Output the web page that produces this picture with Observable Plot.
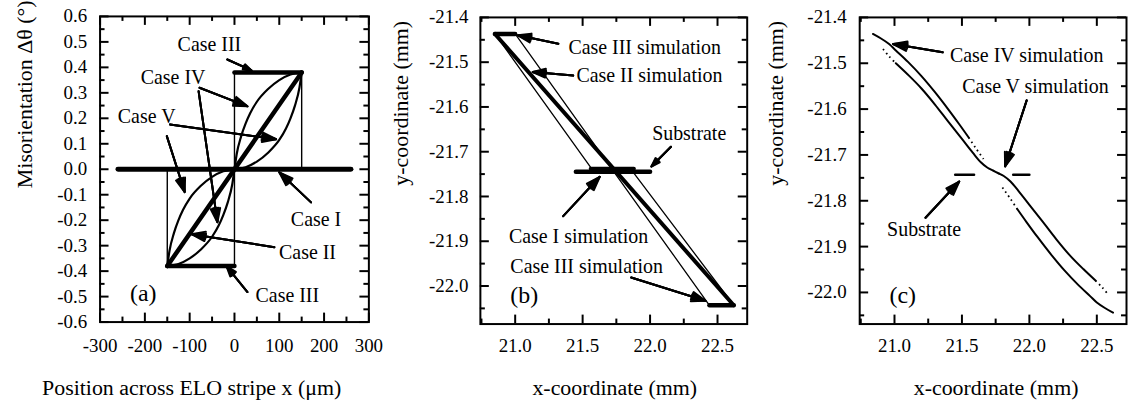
<!DOCTYPE html>
<html><head><meta charset="utf-8">
<script src="https://cdn.jsdelivr.net/npm/d3@7"></script>
<script src="https://cdn.jsdelivr.net/npm/@observablehq/plot@0.6"></script>
<style>
html,body{margin:0;padding:0;background:#fff;width:1130px;height:409px;overflow:hidden}
#wrap{position:relative;width:1130px;height:409px}
#wrap svg{position:absolute;left:0;top:0}
</style></head><body><div id="wrap"></div>
<script>
// ---------- Panel (a): misorientation profiles ----------
const aXTicks = [-300, -200, -100, 0, 100, 200, 300];
const aXMinor = [-250, -150, -50, 50, 150, 250];
const aYTicks = [-0.6, -0.5, -0.4, -0.3, -0.2, -0.1, 0, 0.1, 0.2, 0.3, 0.4, 0.5, 0.6];
const aYMinor = [-0.55, -0.45, -0.35, -0.25, -0.15, -0.05, 0.05, 0.15, 0.25, 0.35, 0.45, 0.55];

const caseI_x = [-260, 260];
const caseI_y = [0, 0];
const caseII_x = [-150, 150];
const caseII_y = [-0.38, 0.38];
const caseIII_x = [-150, -150, 0, 0, 150, 150];
const caseIII_y = [0, -0.38, -0.38, 0.38, 0.38, 0];
const caseIIIbarL_x = [-150, 0], caseIIIbarL_y = [-0.38, -0.38];
const caseIIIbarR_x = [0, 150], caseIIIbarR_y = [0.38, 0.38];
const caseIV_x = [-150, -125, -100, -75, -50, -35, -25, -15, -5, 0, 5, 15, 25, 35, 50, 75, 100, 125, 150];
const caseIV_y = [-0.38, -0.372, -0.35, -0.315, -0.265, -0.22, -0.18, -0.13, -0.06, 0, 0.06, 0.13, 0.18, 0.22, 0.265, 0.315, 0.35, 0.372, 0.38];
const caseV_x = [-150, -145, -135, -125, -115, -100, -75, -50, -25, 0, 25, 50, 75, 100, 115, 125, 135, 145, 150];
const caseV_y = [-0.38, -0.32, -0.25, -0.2, -0.16, -0.115, -0.065, -0.03, -0.008, 0, 0.008, 0.03, 0.065, 0.115, 0.16, 0.2, 0.25, 0.32, 0.38];

const aLabels = ["Case III", "Case IV", "Case V", "Case I", "Case II", "Case III"];
const aLabelX = [-56, -137, -196, 182, 163, 118];
const aLabelY = [0.49, 0.36, 0.208, -0.196, -0.327, -0.497];
const aArrX1 = [-16, -78, -80, -144, -151, 171, 89, 29];
const aArrY1 = [0.431, 0.32, 0.306, 0.176, 0.13, -0.13, -0.306, -0.482];
const aArrX2 = [38, 29, -38, 93, -111, 100, -96, -18];
const aArrY2 = [0.388, 0.247, -0.208, 0.118, -0.09, -0.012, -0.255, -0.38];

// ---------- Panel (b): simulated images, cases I-III ----------
const bcXTicks = [21.0, 21.5, 22.0, 22.5];
const bcXMinor = [20.75, 21.25, 21.75, 22.25];
const bcYTicks = [-21.4, -21.5, -21.6, -21.7, -21.8, -21.9, -22.0];
const bcYMinor = [-21.45, -21.55, -21.65, -21.75, -21.85, -21.95, -22.05];

const bCaseII_x = [20.85, 22.62];
const bCaseII_y = [-21.437, -22.043];
const bCaseIII_L_x = [20.85, 21.565], bCaseIII_L_y = [-21.437, -21.737];
const bCaseIII_M_x = [21.0, 22.44], bCaseIII_M_y = [-21.437, -22.043];
const bCaseIII_R_x = [21.87, 22.62], bCaseIII_R_y = [-21.744, -22.043];
const bCaseIII_top_x = [20.85, 21.0], bCaseIII_top_y = [-21.437, -21.437];
const bCaseIII_bot_x = [22.44, 22.62], bCaseIII_bot_y = [-22.043, -22.043];
const bSubstrate_x = [21.45, 22.0], bSubstrate_y = [-21.745, -21.745];
const bCaseI_x = [21.56, 21.88], bCaseI_y = [-21.738, -21.738];

const bLabels = ["Case III simulation", "Case II simulation", "Substrate", "Case I simulation", "Case III simulation"];
const bLabelX = [21.96, 21.995, 22.29, 21.47, 21.53];
const bLabelY = [-21.467, -21.53, -21.659, -21.889, -21.956];
const bArrX1 = [21.32, 21.43, 22.155, 21.356, 21.86];
const bArrY1 = [-21.459, -21.53, -21.689, -21.844, -21.981];
const bArrX2 = [21.02, 21.13, 22.01, 21.627, 22.41];
const bArrY2 = [-21.44, -21.522, -21.733, -21.756, -22.033];

// ---------- Panel (c): simulated images, cases IV-V ----------
const cIVtop_x = [20.84, 20.9, 20.96, 21.01, 21.1, 21.2, 21.3, 21.4, 21.48, 21.55];
const cIVtop_y = [-21.436, -21.446, -21.458, -21.472, -21.497, -21.528, -21.563, -21.601, -21.633, -21.662];
const cIVtopDots_x = [21.55, 21.6, 21.66];
const cIVtopDots_y = [-21.662, -21.684, -21.709];
const cIVbotDots_x = [21.8, 21.86, 21.91];
const cIVbotDots_y = [-21.771, -21.796, -21.818];
const cIVbot_x = [21.91, 21.98, 22.06, 22.16, 22.26, 22.36, 22.45, 22.5, 22.56, 22.62];
const cIVbot_y = [-21.818, -21.847, -21.879, -21.917, -21.952, -21.983, -22.008, -22.022, -22.034, -22.044];
const cVtopDots_x = [20.915, 20.96, 21.01];
const cVtopDots_y = [-21.469, -21.485, -21.5];
const cV_x = [21.01, 21.1, 21.2, 21.3, 21.4, 21.5, 21.58, 21.64, 21.69, 21.73, 21.77, 21.81, 21.86, 21.92, 22.0, 22.1, 22.2, 22.3, 22.4, 22.49];
const cV_y = [-21.5, -21.525, -21.555, -21.59, -21.628, -21.665, -21.695, -21.716, -21.728, -21.734, -21.74, -21.746, -21.758, -21.779, -21.809, -21.846, -21.884, -21.919, -21.949, -21.974];
const cVbotDots_x = [22.49, 22.54, 22.585];
const cVbotDots_y = [-21.974, -21.989, -22.005];
const cSubL_x = [21.45, 21.59], cSubR_x = [21.88, 22.0], cSub_y = [-21.743, -21.743];

const cLabels = ["Case IV simulation", "Case V simulation", "Substrate"];
const cLabelX = [21.98, 22.045, 21.22];
const cLabelY = [-21.483, -21.552, -21.863];
const cArrX1 = [21.357, 21.98, 21.23];
const cArrY1 = [-21.476, -21.581, -21.837];
const cArrX2 = [20.99, 21.82, 21.48];
const cArrY2 = [-21.458, -21.725, -21.758];

// ---------- helpers ----------
const FONT = "Liberation Serif";
const pts = (xs, ys) => xs.map((x, i) => ({x, y: ys[i]}));
const W = 1135, H = 409;

function panel(o) {
  const fh = o.bottom - o.top, fw = o.right - o.left;
  const line = (xs, ys, sw, extra = {}) => Plot.line(pts(xs, ys), {x: "x", y: "y", stroke: "black", strokeWidth: sw, strokeLinecap: "round", ...extra});
  const marks = [
    Plot.ruleX(o.xMajor, {insetTop: fh - 9, strokeWidth: 2}),
    Plot.ruleX(o.xMajor, {insetBottom: fh - 9, strokeWidth: 2}),
    Plot.ruleX(o.xMinor, {insetTop: fh - 5, strokeWidth: 2}),
    Plot.ruleX(o.xMinor, {insetBottom: fh - 5, strokeWidth: 2}),
    Plot.ruleY(o.yMajor, {insetRight: fw - 9, strokeWidth: 2}),
    Plot.ruleY(o.yMajor, {insetLeft: fw - 9, strokeWidth: 2}),
    Plot.ruleY(o.yMinor, {insetRight: fw - 5, strokeWidth: 2}),
    Plot.ruleY(o.yMinor, {insetLeft: fw - 5, strokeWidth: 2}),
    Plot.frame({stroke: "black", strokeWidth: 2}),
    Plot.axisX(o.xMajor, {anchor: "bottom", tickSize: 0, tickPadding: o.xPad, tickFormat: o.xFmt, label: null, fontSize: 19, fontFamily: FONT}),
    Plot.axisY(o.yMajor, {anchor: "left", tickSize: 0, tickPadding: o.yPad, tickFormat: o.yFmt, label: null, fontSize: 19, fontFamily: FONT}),
    Plot.text([o.xTitle], {frameAnchor: "bottom", dx: o.xTitleDx, dy: o.xTitleDy, fontSize: 22, fontFamily: FONT, lineAnchor: "middle"}),
    Plot.text([o.yTitle], {frameAnchor: "left", dx: o.yTitleDx, dy: o.yTitleDy, rotate: -90, fontSize: 22, fontFamily: FONT, lineAnchor: "middle"}),
    Plot.text([o.tag], {frameAnchor: "bottom-left", dx: 30, dy: -29, fontSize: 24, fontFamily: FONT, lineAnchor: "middle"}),
    ...o.marks(line)
  ];
  const svg = Plot.plot({
    width: W, height: H,
    marginLeft: o.left, marginRight: W - o.right, marginTop: o.top, marginBottom: H - o.bottom,
    x: {domain: o.xDomain}, y: {domain: o.yDomain},
    style: {fontFamily: FONT, fontSize: "19px", color: "black", background: "transparent", overflow: "visible"},
    marks
  });
  svg.setAttribute("font-family", FONT);
  svg.querySelectorAll("g, text").forEach(el => {
    if (el.hasAttribute("font-family") || el.tagName === "text") {
      el.setAttribute("font-family", FONT);
      el.style.fontFamily = FONT;
    }
  });
  return svg;
}

function annotations(labels, lx, ly, ax1, ay1, ax2, ay2) {
  const arr = ax1.map((v, i) => ({x1: v, y1: ay1[i], x2: ax2[i], y2: ay2[i]}));
  const ch = {x1: "x1", y1: "y1", x2: "x2", y2: "y2", stroke: "black", headLength: 11};
  return [
    Plot.text(labels.map((t, i) => ({t, x: lx[i], y: ly[i]})), {x: "x", y: "y", text: "t", fontSize: 20, fontFamily: FONT, lineAnchor: "middle"}),
    Plot.arrow(arr, {...ch, strokeWidth: 2, headAngle: 38}),
    Plot.arrow(arr, {...ch, strokeWidth: 2, headAngle: 26}),
    Plot.arrow(arr, {...ch, strokeWidth: 2, headAngle: 14})
  ];
}

const wrap = document.getElementById("wrap");

wrap.append(panel({
  left: 100, right: 370, top: 16, bottom: 323,
  xDomain: [-300, 300], yDomain: [-0.6, 0.6],
  xMajor: aXTicks, xMinor: aXMinor, yMajor: aYTicks, yMinor: aYMinor,
  xFmt: d => String(d), yFmt: d => d.toFixed(1), xPad: 17, yPad: 13,
  xTitle: "Position across ELO stripe x (μm)", xTitleDx: -43, xTitleDy: 66,
  yTitle: "Misorientation Δθ (°)", yTitleDx: -75, yTitleDy: 19,
  tag: "(a)",
  marks: line => [
    line(caseIII_x, caseIII_y, 1.4, {strokeLinecap: "butt"}),
    line(caseIIIbarL_x, caseIIIbarL_y, 4.5),
    line(caseIIIbarR_x, caseIIIbarR_y, 4.5),
    line(caseIV_x, caseIV_y, 2.2, {curve: "monotone-x"}),
    line(caseV_x, caseV_y, 2.2, {curve: "monotone-x"}),
    line(caseII_x, caseII_y, 4.5),
    line(caseI_x, caseI_y, 5),
    ...annotations(aLabels, aLabelX, aLabelY, aArrX1, aArrY1, aArrX2, aArrY2)
  ]
}));

const bcX = [20.742, 22.72];

wrap.append(panel({
  left: 482, right: 750, top: 17, bottom: 325,
  xDomain: bcX, yDomain: [-22.085, -21.4],
  xMajor: bcXTicks, xMinor: bcXMinor, yMajor: bcYTicks, yMinor: bcYMinor,
  xFmt: d => d.toFixed(1), yFmt: d => d.toFixed(1), xPad: 15, yPad: 12,
  xTitle: "x-coordinate (mm)", xTitleDx: 1, xTitleDy: 64,
  yTitle: "y-coordinate (mm)", yTitleDx: -80, yTitleDy: 15,
  tag: "(b)",
  marks: line => [
    line(bCaseIII_L_x, bCaseIII_L_y, 1.3),
    line(bCaseIII_M_x, bCaseIII_M_y, 1.3),
    line(bCaseIII_R_x, bCaseIII_R_y, 1.3),
    line(bCaseII_x, bCaseII_y, 4),
    line(bCaseIII_top_x, bCaseIII_top_y, 4.5),
    line(bCaseIII_bot_x, bCaseIII_bot_y, 4.5),
    line(bSubstrate_x, bSubstrate_y, 4.5),
    line(bCaseI_x, bCaseI_y, 4),
    ...annotations(bLabels, bLabelX, bLabelY, bArrX1, bArrY1, bArrX2, bArrY2)
  ]
}));

const dots = {curve: "catmull-rom", strokeDasharray: "1.6,3.4", strokeLinecap: "butt"};
wrap.append(panel({
  left: 863, right: 1131, top: 17, bottom: 325,
  xDomain: bcX, yDomain: [-22.069, -21.4],
  xMajor: bcXTicks, xMinor: bcXMinor, yMajor: bcYTicks, yMinor: bcYMinor,
  xFmt: d => d.toFixed(1), yFmt: d => d.toFixed(1), xPad: 15, yPad: 13,
  xTitle: "x-coordinate (mm)", xTitleDx: 3, xTitleDy: 64,
  yTitle: "y-coordinate (mm)", yTitleDx: -84, yTitleDy: 15,
  tag: "(c)",
  marks: line => [
    line(cIVtop_x, cIVtop_y, 2, {curve: "catmull-rom"}),
    line(cIVtopDots_x, cIVtopDots_y, 1.8, dots),
    line(cIVbotDots_x, cIVbotDots_y, 1.8, dots),
    line(cIVbot_x, cIVbot_y, 2, {curve: "catmull-rom"}),
    line(cVtopDots_x, cVtopDots_y, 1.8, dots),
    line(cV_x, cV_y, 2, {curve: "catmull-rom"}),
    line(cVbotDots_x, cVbotDots_y, 1.8, dots),
    line(cSubL_x, cSub_y, 2.5),
    line(cSubR_x, cSub_y, 2.5),
    ...annotations(cLabels, cLabelX, cLabelY, cArrX1, cArrY1, cArrX2, cArrY2)
  ]
}));
</script></body></html>
